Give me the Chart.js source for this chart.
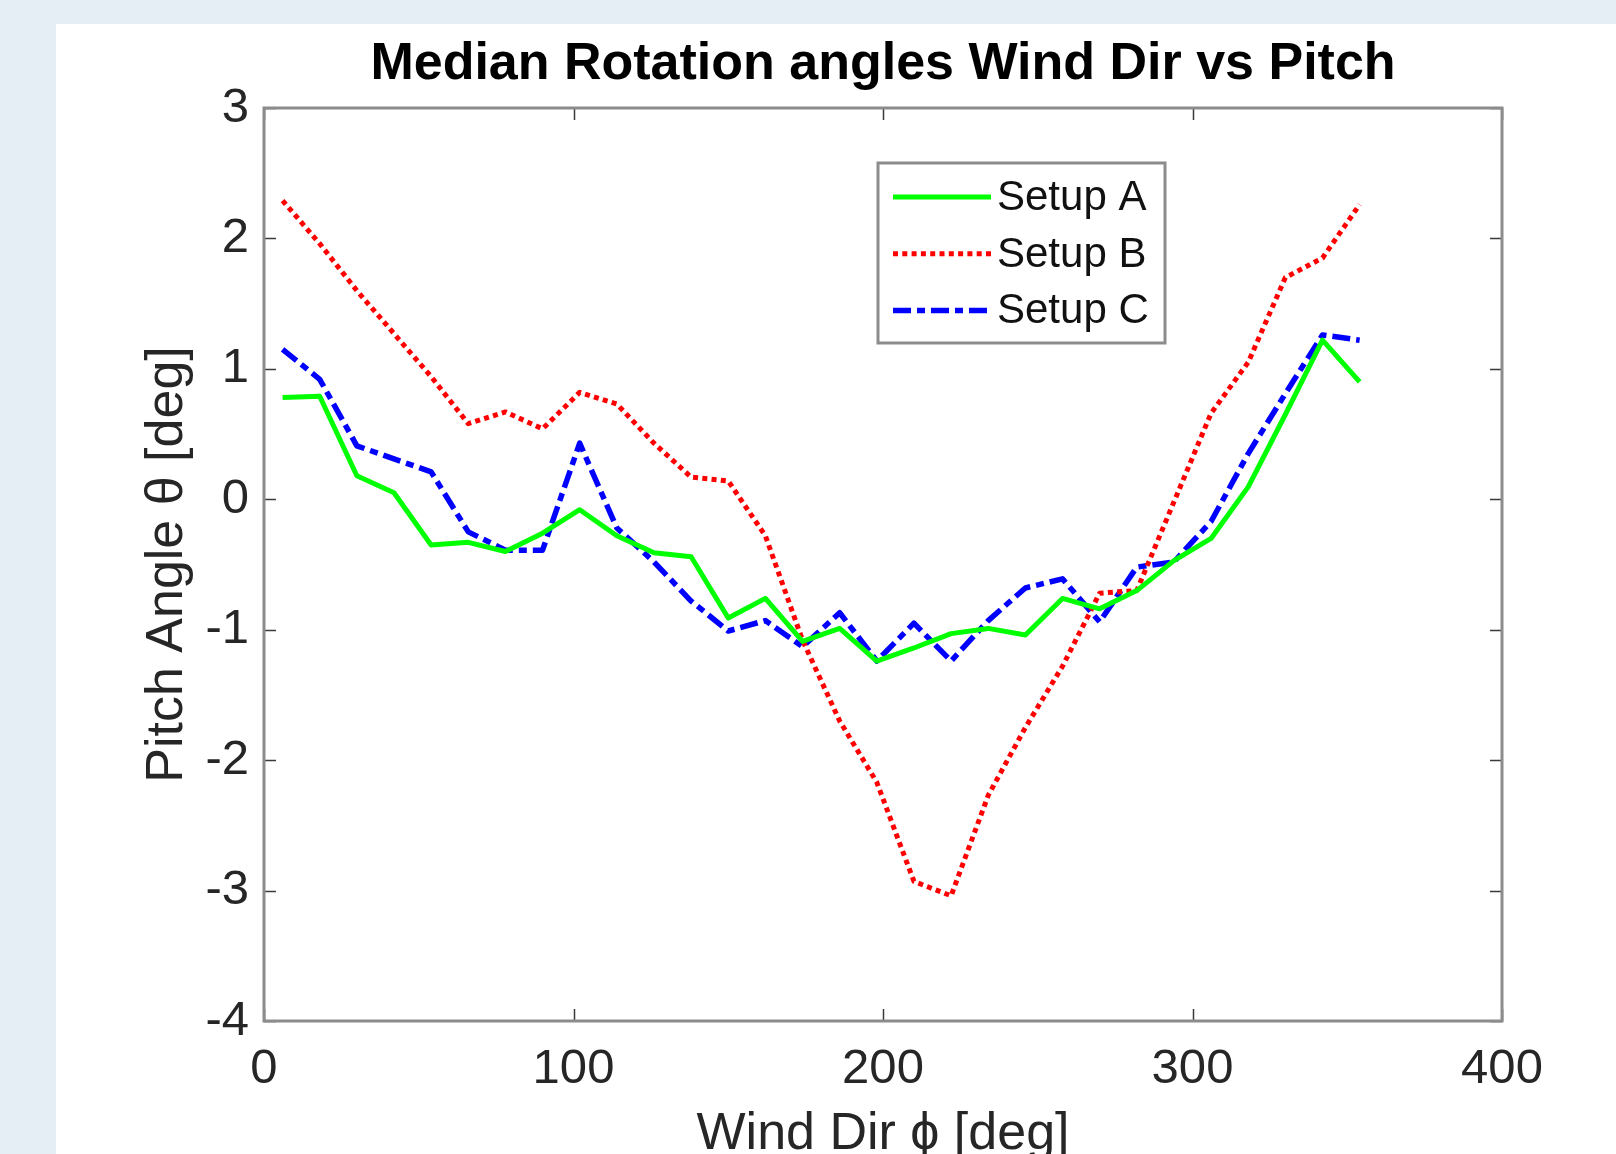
<!DOCTYPE html>
<html>
<head>
<meta charset="utf-8">
<script src="https://cdn.jsdelivr.net/npm/chart.js@4.4.1/dist/chart.umd.min.js"></script>
<style>
  html, body { margin: 0; padding: 0; width: 1616px; height: 1154px; overflow: hidden; background: #e5edf5; }
  #c { position: absolute; left: 56px; top: 24px; width: 1560px; height: 1130px; background: #ffffff; }
</style>
</head>
<body>
<canvas id="c" width="1560" height="1130"></canvas>
<script>
// ---- data ----
const chartTitle = 'Median Rotation angles Wind Dir vs Pitch';
const xAxisTitle = 'Wind Dir \u03D5 [deg]';
const yAxisTitle = 'Pitch Angle \u03B8 [deg]';
const seriesNames = ['Setup A', 'Setup B', 'Setup C'];

const windDir = [6, 18, 30, 42, 54, 66, 78, 90, 102, 114, 126, 138, 150, 162, 174,
                 186, 198, 210, 222, 234, 246, 258, 270, 282, 294, 306, 318, 330, 342, 354];

const setupA = [0.78, 0.79, 0.18, 0.05, -0.35, -0.33, -0.40, -0.26, -0.08, -0.28,
                -0.41, -0.44, -0.91, -0.76, -1.09, -0.99, -1.24, -1.14, -1.03, -0.99,
                -1.04, -0.76, -0.84, -0.70, -0.47, -0.30, 0.095, 0.65, 1.22, 0.90];

const setupB = [2.29, 1.96, 1.60, 1.27, 0.94, 0.58, 0.67, 0.54, 0.82, 0.73,
                0.43, 0.17, 0.14, -0.28, -1.08, -1.70, -2.17, -2.93, -3.04, -2.27,
                -1.75, -1.28, -0.72, -0.70, -0.02, 0.66, 1.05, 1.70, 1.85, 2.26];

const setupC = [1.15, 0.92, 0.41, 0.31, 0.21, -0.25, -0.39, -0.39, 0.43, -0.22,
                -0.48, -0.78, -1.01, -0.93, -1.13, -0.87, -1.24, -0.95, -1.24, -0.93,
                -0.68, -0.61, -0.94, -0.52, -0.48, -0.17, 0.35, 0.81, 1.26, 1.22];

const xTickRange = [0, 400, 100];   // min, max, step
const yTickRange = [-4, 3, 1];

// ---- styling ----
const FONT = '"Liberation Sans", Arial, Helvetica, sans-serif';
const textColor = '#262626';

function toPoints(xs, ys) { return xs.map((x, i) => ({ x: x, y: ys[i] })); }

const datasets = [
  { label: seriesNames[0], data: toPoints(windDir, setupA), borderColor: '#00ff00', borderWidth: 5, borderDash: [] },
  { label: seriesNames[1], data: toPoints(windDir, setupB), borderColor: '#ff0000', borderWidth: 5, borderDash: [5, 4.3] },
  { label: seriesNames[2], data: toPoints(windDir, setupC), borderColor: '#0000ff', borderWidth: 5.5, borderDash: [18, 6, 8, 6] }
].map(d => Object.assign(d, { pointRadius: 0, fill: false, tension: 0, borderJoinStyle: 'round', borderCapStyle: 'butt' }));

// MATLAB-like box, inward ticks and inset legend
const matlabAxes = {
  id: 'matlabAxes',
  afterDatasetsDraw(chart) {
    const { ctx, chartArea: { left, top, right, bottom }, scales: { x, y } } = chart;
    ctx.save();
    const tl = 12;
    ctx.strokeStyle = '#3a3a3a';
    ctx.lineWidth = 1.5;
    ctx.beginPath();
    x.ticks.forEach(t => {
      const px = Math.round(x.getPixelForValue(t.value)) + 0.5;
      ctx.moveTo(px, bottom); ctx.lineTo(px, bottom - tl);
      ctx.moveTo(px, top); ctx.lineTo(px, top + tl);
    });
    y.ticks.forEach(t => {
      const py = Math.round(y.getPixelForValue(t.value)) + 0.5;
      ctx.moveTo(left, py); ctx.lineTo(left + tl, py);
      ctx.moveTo(right, py); ctx.lineTo(right - tl, py);
    });
    ctx.stroke();
    ctx.strokeStyle = '#8c8c8c';
    ctx.lineWidth = 3;
    ctx.strokeRect(left, top, right - left, bottom - top);

    // legend box
    const lx = left + 614, ly = top + 55, lw = 287, lh = 180;
    ctx.fillStyle = '#ffffff';
    ctx.fillRect(lx, ly, lw, lh);
    ctx.strokeStyle = '#8c8c8c';
    ctx.lineWidth = 3;
    ctx.strokeRect(lx, ly, lw, lh);
    ctx.font = '42px ' + FONT;
    ctx.textBaseline = 'middle';
    ctx.textAlign = 'left';
    chart.data.datasets.forEach((ds, i) => {
      const ry = ly + 34 + i * 56.7;
      ctx.save();
      ctx.strokeStyle = ds.borderColor;
      ctx.lineWidth = ds.borderWidth;
      ctx.setLineDash(ds.borderDash || []);
      ctx.beginPath();
      ctx.moveTo(lx + 15, ry);
      ctx.lineTo(lx + 113, ry);
      ctx.stroke();
      ctx.restore();
      ctx.fillStyle = '#111111';
      ctx.fillText(ds.label, lx + 119, ry + 1.5);
    });
    ctx.restore();
  }
};

new Chart(document.getElementById('c'), {
  type: 'line',
  data: { datasets: datasets },
  plugins: [matlabAxes],
  options: {
    responsive: false,
    animation: false,
    devicePixelRatio: 1,
    layout: { padding: { left: 0, right: 114, top: 0, bottom: 0 } },
    plugins: {
      legend: { display: false },
      tooltip: { enabled: false },
      title: {
        display: true,
        text: chartTitle,
        fullSize: false,
        color: '#000000',
        font: { family: FONT, size: 52, weight: 'bold', lineHeight: 1 },
        padding: { top: 15, bottom: 17 }
      }
    },
    scales: {
      x: {
        type: 'linear',
        min: xTickRange[0], max: xTickRange[1],
        grid: { display: false, drawTicks: false },
        border: { display: false },
        ticks: { stepSize: xTickRange[2], color: textColor, padding: 24, font: { family: FONT, size: 49, lineHeight: 1 } },
        title: { display: true, text: xAxisTitle, color: textColor, padding: 0, font: { family: FONT, size: 52, lineHeight: 0.75 } },
        afterFit: s => { s.height = 133; }
      },
      y: {
        type: 'linear',
        min: yTickRange[0], max: yTickRange[1],
        grid: { display: false, drawTicks: false },
        border: { display: false },
        ticks: { stepSize: yTickRange[2], color: textColor, padding: 15, font: { family: FONT, size: 49, lineHeight: 1 } },
        title: { display: true, text: yAxisTitle, color: textColor, padding: { top: 88, bottom: 0 }, font: { family: FONT, size: 52, lineHeight: 0.9 } },
        afterFit: s => { s.width = 208; }
      }
    }
  }
});
</script>
</body>
</html>
